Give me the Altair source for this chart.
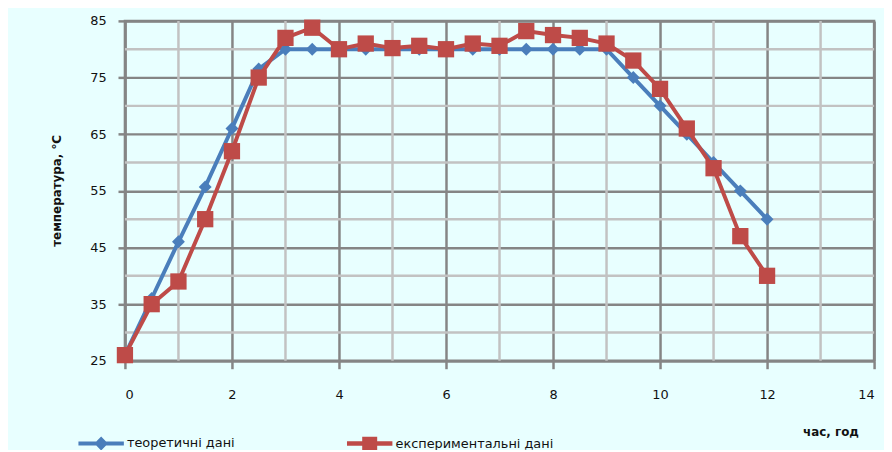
import altair as alt
import pandas as pd

hours = [0, 0.5, 1, 1.5, 2, 2.5, 3, 3.5, 4, 4.5, 5, 5.5, 6, 6.5, 7, 7.5, 8, 8.5, 9, 9.5, 10, 10.5, 11, 11.5, 12]
theory = [26, 36, 46, 55.7, 66, 76.5, 80, 80, 80, 80, 80, 80, 80, 80, 80, 80, 80, 80, 80, 75, 70, 65, 60, 55, 50]
experiment = [26, 35, 39, 50, 62, 75, 82, 83.8, 80, 81, 80.2, 80.6, 80, 81, 80.6, 83.2, 82.5, 82, 81, 78, 73, 66, 59, 47, 40]

series_names = ["теоретичні дані", "експериментальні дані"]
series_colors = ["#4A7EBB", "#BE4B48"]

x_major = [0, 2, 4, 6, 8, 10, 12, 14]
x_minor = [1, 3, 5, 7, 9, 11, 13]
y_major = [25, 35, 45, 55, 65, 75, 85]
y_minor = [30, 40, 50, 60, 70, 80]

df = pd.DataFrame({
    "x": hours * 2,
    "y": theory + experiment,
    "series": [series_names[0]] * len(hours) + [series_names[1]] * len(hours),
})

xscale = alt.Scale(domain=[0, 14], nice=False, zero=False)
yscale = alt.Scale(domain=[25, 85], nice=False, zero=False)

FONT = "DejaVu Sans"
MAJOR = "#858585"
MINOR = "#c2c2c2"

xaxis = alt.Axis(values=x_major, grid=True, gridColor=MAJOR, gridWidth=2.5,
                 domainColor=MAJOR, domainWidth=2.5, tickColor=MAJOR, tickWidth=2.5,
                 tickSize=8, labelPadding=20, labelFontSize=13, labelFont=FONT,
                 labelColor="#111", title="час, год", titleFont=FONT, titleFontSize=12,
                 titleFontWeight="bold", titleColor="#111", titleX=712, titleY=71,
                 titleAlign="center", titleBaseline="middle")
yaxis = alt.Axis(values=y_major, grid=True, gridColor=MAJOR, gridWidth=2.5,
                 domainColor=MAJOR, domainWidth=2.5, tickColor=MAJOR, tickWidth=2.5,
                 tickSize=7, labelPadding=12, labelFontSize=13, labelFont=FONT,
                 labelColor="#111", title="температура, °С", titleFont=FONT,
                 titleFontSize=12, titleFontWeight="bold", titleColor="#111",
                 titleX=-69, titleY=171, titleAlign="center", titleBaseline="middle")

minor_x = alt.Chart(pd.DataFrame({"x": x_minor})).mark_rule(
    color=MINOR, strokeWidth=2.5).encode(x=alt.X("x:Q", scale=xscale, axis=xaxis))
minor_y = alt.Chart(pd.DataFrame({"y": y_minor})).mark_rule(
    color=MINOR, strokeWidth=2.5).encode(y=alt.Y("y:Q", scale=yscale, axis=yaxis))

def series_layers(name, color, shape, size):
    base = alt.Chart(df).transform_filter(alt.datum.series == name)
    line = base.mark_line(color=color, strokeWidth=4).encode(
        x=alt.X("x:Q", scale=xscale, axis=xaxis), y=alt.Y("y:Q", scale=yscale, axis=yaxis))
    pts = base.mark_point(color=color, shape=shape, filled=True, opacity=1, size=size).encode(
        x=alt.X("x:Q", scale=xscale), y=alt.Y("y:Q", scale=yscale))
    return line + pts

diamond_path = ("M-1,-0.09 L1,-0.09 L1,0.09 L-1,0.09 Z "
                "M0,-0.31 L0.3,0 L0,0.31 L-0.3,0 Z")
square_path = ("M-1,-0.1 L1,-0.1 L1,0.1 L-1,0.1 Z "
               "M-0.33,-0.3 L0.33,-0.3 L0.33,0.3 L-0.33,0.3 Z")

legend_layer = alt.Chart(df).mark_point(filled=True, size=0, opacity=1).encode(
    x=alt.X("x:Q", scale=xscale),
    y=alt.Y("y:Q", scale=yscale),
    color=alt.Color("series:N", scale=alt.Scale(domain=series_names, range=series_colors),
                    legend=alt.Legend(orient="none", legendX=-48, legendY=402,
                                      direction="horizontal", title=None,
                                      symbolSize=2100, symbolOpacity=1,
                                      labelFont=FONT, labelFontSize=13, labelColor="#111",
                                      labelOffset=2, columnPadding=110)),
    shape=alt.Shape("series:N", scale=alt.Scale(domain=series_names,
                                                range=[diamond_path, square_path])),
)

chart = alt.layer(
    minor_x, minor_y,
    series_layers(series_names[0], series_colors[0], "diamond", 170),
    series_layers(series_names[1], series_colors[1], "square", 270),
    legend_layer,
).properties(
    width=756, height=343,
    background="#E8FFFF",
    padding={"left": 118, "top": 11, "right": 10, "bottom": 88},
    autosize=alt.AutoSizeParams(type="none"),
).configure_view(stroke=MAJOR, strokeWidth=2.5)

chart.save("out.html", embed_options={"renderer": "svg", "actions": False})
